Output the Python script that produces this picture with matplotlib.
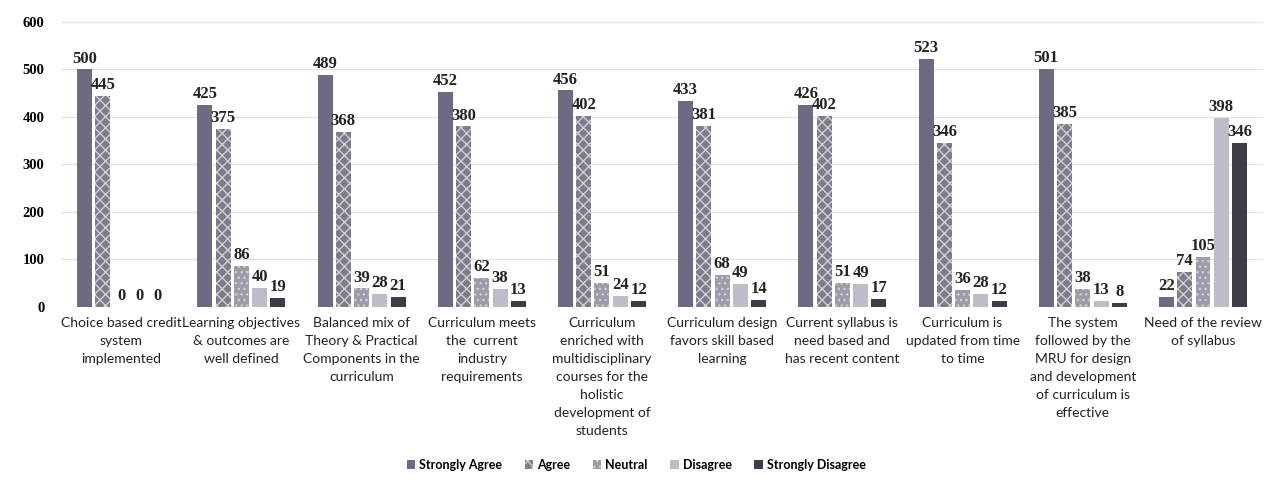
import matplotlib.pyplot as plt
import numpy as np

categories = [
    "Choice based credit\nsystem\nimplemented",
    "Learning objectives\n& outcomes are\nwell defined",
    "Balanced mix of\nTheory & Practical\nComponents in the\ncurriculum",
    "Curriculum meets\nthe  current\nindustry\nrequirements",
    "Curriculum\nenriched with\nmultidisciplinary\ncourses for the\nholistic\ndevelopment of\nstudents",
    "Curriculum design\nfavors skill based\nlearning",
    "Current syllabus is\nneed based and\nhas recent content",
    "Curriculum is\nupdated from time\nto time",
    "The system\nfollowed by the\nMRU for design\nand development\nof curriculum is\neffective",
    "Need of the review\nof syllabus",
]
series_names = ["Strongly Agree", "Agree", "Neutral", "Disagree", "Strongly Disagree"]
strongly_agree = [500, 425, 489, 452, 456, 433, 426, 523, 501, 22]
agree = [445, 375, 368, 380, 402, 381, 402, 346, 385, 74]
neutral = [0, 86, 39, 62, 51, 68, 51, 36, 38, 105]
disagree = [0, 40, 28, 38, 24, 49, 49, 28, 13, 398]
strongly_disagree = [0, 19, 21, 13, 12, 14, 17, 12, 8, 346]

colors = ["#6c6b82", "#7d7d8a", "#9c9ba8", "#bdbcc8", "#3d3d4a"]
hatches = [None, "xxx", "...", None, None]
series = [strongly_agree, agree, neutral, disagree, strongly_disagree]

fig = plt.figure(figsize=(12.72, 4.88), dpi=100)
ax = fig.add_axes([0.048, 0.371, 0.945, 0.584])

x = np.arange(len(categories))
w = 0.152
for i, (vals, name) in enumerate(zip(series, series_names)):
    pos = x + (i - 2) * w
    ax.bar(pos, vals, width=w * 0.82, color=colors[i], label=name,
           hatch=hatches[i], edgecolor="#cfcfd6" if hatches[i] else colors[i],
           linewidth=0, zorder=3)
    for p, v in zip(pos, vals):
        ax.text(p, v + 6, str(v), ha="center", va="bottom", fontsize=12,
                family="Liberation Serif", fontweight="bold", color="#222222")

ax.set_xlim(-0.5, 9.5)
ax.set_ylim(0, 600)
ax.set_yticks(range(0, 601, 100))
ax.set_xticks(x)
ax.set_xticklabels(categories, family="Lato", fontsize=10, color="#222222",
                   linespacing=1.6)
for t in ax.get_yticklabels():
    t.set_family("Liberation Serif")
    t.set_fontweight("bold")
    t.set_fontsize(10.5)
ax.tick_params(axis="both", length=0, pad=12)
ax.tick_params(axis="x", pad=7)
ax.grid(axis="y", color="#e2e2e2", linewidth=0.8, zorder=0)
for s in ax.spines.values():
    s.set_visible(False)

fig.legend(loc="center", bbox_to_anchor=(0.5, 0.047), ncol=5, frameon=False,
           prop={"family": "Lato", "weight": "bold", "size": 9},
           handlelength=0.7, handleheight=0.7, columnspacing=1.8, handletextpad=0.3)

fig.savefig("out.png", dpi=100)
